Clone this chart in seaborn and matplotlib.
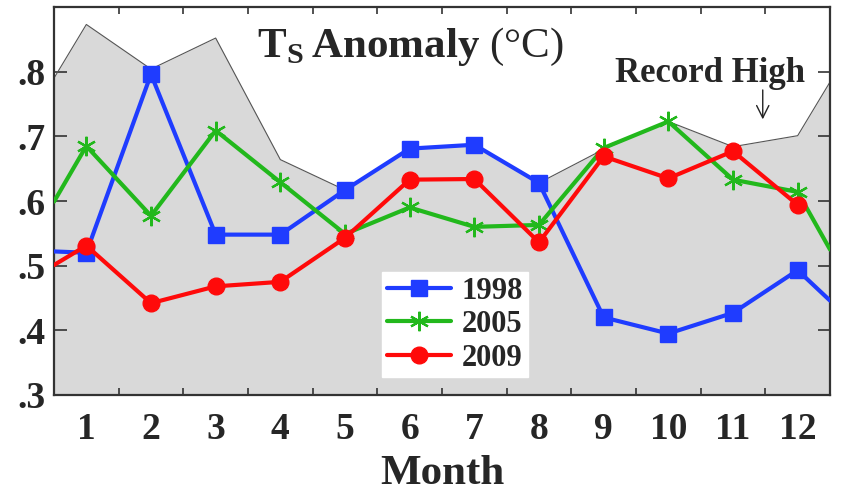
import matplotlib
matplotlib.use("Agg")
import matplotlib.pyplot as plt
import pandas as pd
import seaborn as sns

sns.set_theme(style="ticks")
plt.rcParams["font.family"] = ["Liberation Serif", "DejaVu Serif"]
plt.rcParams["font.weight"] = "bold"
plt.rcParams["mathtext.fontset"] = "custom"
plt.rcParams["mathtext.rm"] = "Liberation Serif"
plt.rcParams["mathtext.bf"] = "Liberation Serif:bold"

# month positions, with the half-month edges the curves run out to
months = [1, 2, 3, 4, 5, 6, 7, 8, 9, 10, 11, 12]
x_ext = [0.5] + months + [12.5]

record_high = [0.790, 0.873, 0.804, 0.852, 0.664, 0.617, 0.681, 0.687, 0.628,
               0.680, 0.723, 0.684, 0.701, 0.784]
ts_1998 = [0.522, 0.520, 0.796, 0.548, 0.548, 0.617, 0.681, 0.687, 0.628,
           0.420, 0.395, 0.427, 0.493, 0.446]
ts_2005 = [0.599, 0.685, 0.577, 0.709, 0.629, 0.549, 0.590, 0.560, 0.563,
           0.682, 0.723, 0.633, 0.614, 0.525]
ts_2009 = [0.501, 0.531, 0.442, 0.468, 0.475, 0.543, 0.633, 0.634, 0.536,
           0.669, 0.635, 0.677, 0.594]

y_ticks = [0.3, 0.4, 0.5, 0.6, 0.7, 0.8]
y_tick_labels = [".3", ".4", ".5", ".6", ".7", ".8"]

series = [
    ("1998", ts_1998, "#1f3cff", "s", 11, 1.0),
    ("2005", ts_2005, "#22b81c", (6, 2, 0), 14, 1.6),
    ("2009", ts_2009, "#ff0a0a", "o", 12, 1.0),
]

fig = plt.figure(figsize=(8.45, 5.03), dpi=100)
ax = fig.add_axes([54 / 845, 1 - 395 / 503, 776 / 845, 388 / 503])

ax.fill_between(x_ext, 0.3, record_high, color="#d9d9d9", lw=0, zorder=0)
rec = pd.DataFrame({"x": x_ext, "y": record_high})
sns.lineplot(data=rec, x="x", y="y", color="#555555", lw=0.8, ax=ax,
             estimator=None, zorder=1)

for name, vals, color, marker, ms, mew in series:
    df = pd.DataFrame({"x": x_ext[:len(vals)], "y": vals})
    sns.lineplot(data=df, x="x", y="y", color=color, lw=3, ax=ax,
                 estimator=None, label=name, marker=marker, markersize=ms,
                 markeredgecolor=color, markeredgewidth=mew,
                 markevery=list(range(1, 13)), zorder=3)

ax.set_xlim(0.5, 12.5)
ax.set_ylim(0.3, 0.9)
ax.set_xticks(months)
ax.set_xticklabels([str(m) for m in months])
ax.set_xticks([m + 0.5 for m in months[:-1]], minor=True)
ax.set_yticks(y_ticks)
ax.set_yticklabels(y_tick_labels)
ax.set_ylabel("")
ax.set_xlabel("Month", fontsize=31, fontweight="bold", labelpad=6)

ax.tick_params(axis="x", which="major", length=0, pad=12, labelsize=27)
ax.tick_params(axis="x", which="minor", direction="in", length=5, width=1.2,
               top=True, bottom=True, color="#333333")
ax.tick_params(axis="y", which="major", direction="in", length=9, width=1.2,
               left=True, right=True, pad=6, labelsize=27, color="#333333")
for lab in ax.get_xticklabels() + ax.get_yticklabels():
    lab.set_fontweight("bold")
for sp in ax.spines.values():
    sp.set_visible(True)
    sp.set_color("#333333")
    sp.set_linewidth(1.6)

ax.text(0.46, 0.871, r"$\mathbf{T}_{\mathrm{S}}\,\mathbf{Anomaly}$ (°C)",
        transform=ax.transAxes, ha="center", va="baseline", fontsize=31,
        fontweight="normal")
ax.text(0.845, 0.807, "Record High", transform=ax.transAxes,
        ha="center", va="baseline", fontsize=25, fontweight="bold")
ax.annotate("", xy=(11.46, 0.722), xytext=(11.46, 0.776),
            arrowprops=dict(arrowstyle="->", lw=1.0, color="#222222",
                            mutation_scale=22))

leg = ax.legend(loc="upper left", bbox_to_anchor=(0.423, 0.317),
                fontsize=22, frameon=True, fancybox=False, framealpha=1,
                edgecolor="white", facecolor="white", handlelength=2.1,
                handletextpad=0.35, labelspacing=0.15, borderpad=0.15,
                borderaxespad=0)
for t in leg.get_texts():
    t.set_fontweight("bold")

fig.savefig("out.png", dpi=100)
